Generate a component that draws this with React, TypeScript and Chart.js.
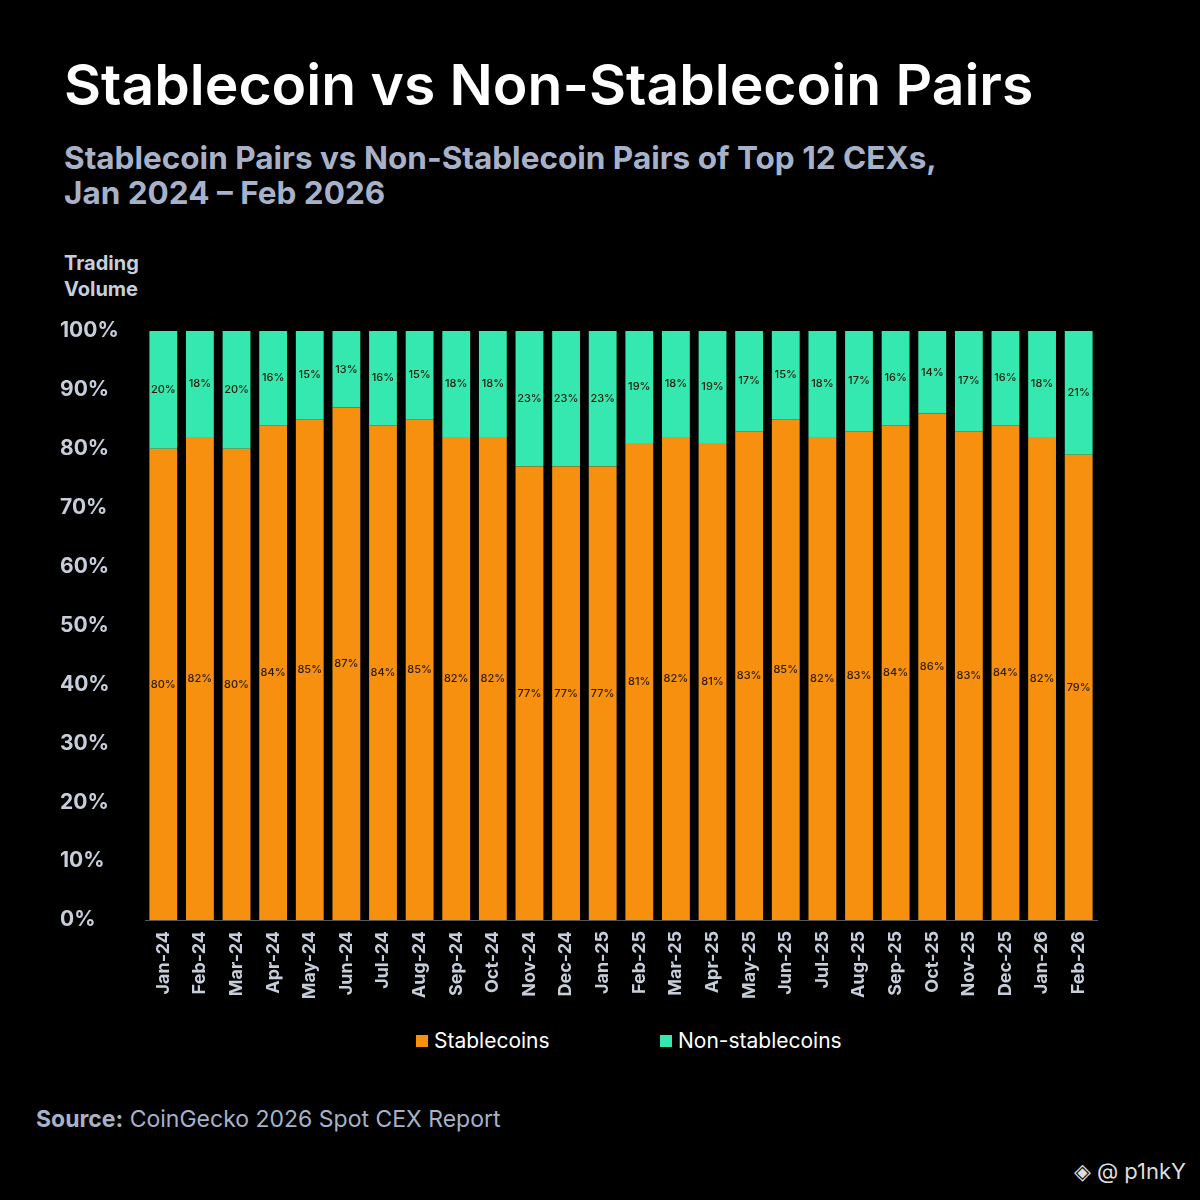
import { useEffect, useRef } from 'react';
import { Chart, registerables } from 'chart.js';

Chart.register(...registerables);

const months = [
  'Jan-24', 'Feb-24', 'Mar-24', 'Apr-24', 'May-24', 'Jun-24', 'Jul-24', 'Aug-24', 'Sep-24', 'Oct-24',
  'Nov-24', 'Dec-24', 'Jan-25', 'Feb-25', 'Mar-25', 'Apr-25', 'May-25', 'Jun-25', 'Jul-25', 'Aug-25',
  'Sep-25', 'Oct-25', 'Nov-25', 'Dec-25', 'Jan-26', 'Feb-26',
];
const stablecoins = [80, 82, 80, 84, 85, 87, 84, 85, 82, 82, 77, 77, 77, 81, 82, 81, 83, 85, 82, 83, 84, 86, 83, 84, 82, 79];
const nonStablecoins = [20, 18, 20, 16, 15, 13, 16, 15, 18, 18, 23, 23, 23, 19, 18, 19, 17, 15, 18, 17, 16, 14, 17, 16, 18, 21];

const ORANGE = '#F7900F';
const TEAL = '#34E8B0';
const AXIS = '#C7CEDB';
const FONT = 'Inter, "Noto Sans", sans-serif';

const segmentLabels = {
  id: 'segmentLabels',
  afterDatasetsDraw(chart: Chart) {
    const ctx = chart.ctx;
    ctx.save();
    ctx.font = `500 11px ${FONT}`;
    ctx.fillStyle = '#2a1a08';
    ctx.textAlign = 'center';
    ctx.textBaseline = 'middle';
    chart.data.datasets.forEach((ds, di) => {
      chart.getDatasetMeta(di).data.forEach((bar: any, i) => {
        const { x, y, base } = bar.getProps(['x', 'y', 'base'], true);
        ctx.fillText(`${ds.data[i]}%`, x, (y + base) / 2);
      });
    });
    ctx.restore();
  },
};

export default function App() {
  const canvasRef = useRef<HTMLCanvasElement>(null);
  const chartRef = useRef<Chart | null>(null);

  useEffect(() => {
    if (!canvasRef.current) return;
    chartRef.current?.destroy();
    chartRef.current = new Chart(canvasRef.current, {
      type: 'bar',
      data: {
        labels: months,
        datasets: [
          { label: 'Stablecoins', data: stablecoins, backgroundColor: ORANGE },
          { label: 'Non-stablecoins', data: nonStablecoins, backgroundColor: TEAL },
        ],
      },
      plugins: [segmentLabels],
      options: {
        animation: false,
        responsive: false,
        layout: { padding: { left: 60, right: 103, top: 31, bottom: 0 } },
        datasets: { bar: { barPercentage: 0.76, categoryPercentage: 1 } },
        plugins: {
          tooltip: { enabled: false },
          legend: { display: false },
        },
        scales: {
          x: {
            stacked: true,
            grid: { display: false },
            border: { color: '#555' },
            afterFit: (s: any) => { s.height = 100; },
            ticks: {
              color: AXIS,
              font: { family: FONT, size: 18, weight: 'bold' },
              maxRotation: 90,
              minRotation: 90,
              autoSkip: false,
            },
          },
          y: {
            stacked: true,
            min: 0,
            max: 100,
            grid: { display: false },
            border: { display: false },
            afterFit: (s: any) => { s.width = 85; },
            ticks: {
              stepSize: 10,
              color: AXIS,
              crossAlign: 'far',
              font: { family: FONT, size: 21, weight: 'bold' },
              callback: (v) => `${v}%`,
            },
          },
        },
      },
    });
    return () => {
      chartRef.current?.destroy();
    };
  }, []);

  const legendItem = (color: string, text: string, left: number) => (
    <div style={{ position: 'absolute', left, top: 1028, fontSize: 21, color: '#fff', display: 'flex', alignItems: 'center' }}>
      <span style={{ display: 'inline-block', width: 12, height: 12, background: color, marginRight: 6 }} />
      {text}
    </div>
  );

  return (
    <div style={{ position: 'fixed', left: 0, top: 0, width: 1200, height: 1200, background: '#000', fontFamily: FONT, overflow: 'hidden' }}>
      <div style={{ position: 'absolute', left: 64, top: 50, fontSize: 57, fontWeight: 600, color: '#fff' }}>
        Stablecoin vs Non-Stablecoin Pairs
      </div>
      <div style={{ position: 'absolute', left: 64, top: 140, fontSize: 31.5, fontWeight: 700, color: '#A7B2C8', lineHeight: '35px' }}>
        Stablecoin Pairs vs Non-Stablecoin Pairs of Top 12 CEXs,<br />Jan 2024 – Feb 2026
      </div>
      <div style={{ position: 'absolute', left: 64, top: 250, fontSize: 20, fontWeight: 700, color: AXIS, lineHeight: '26px' }}>
        Trading<br />Volume
      </div>
      <canvas ref={canvasRef} width={1200} height={720} style={{ position: 'absolute', left: 0, top: 300 }} />
      {legendItem(ORANGE, 'Stablecoins', 416)}
      {legendItem(TEAL, 'Non-stablecoins', 660)}
      <div style={{ position: 'absolute', left: 36, top: 1105, fontSize: 23, color: '#A7B2C8' }}>
        <b>Source:</b> CoinGecko 2026 Spot CEX Report
      </div>
      <div style={{ position: 'absolute', right: 14, top: 1158, fontSize: 22, color: '#ddd' }}>◈ @ p1nkY</div>
    </div>
  );
}
